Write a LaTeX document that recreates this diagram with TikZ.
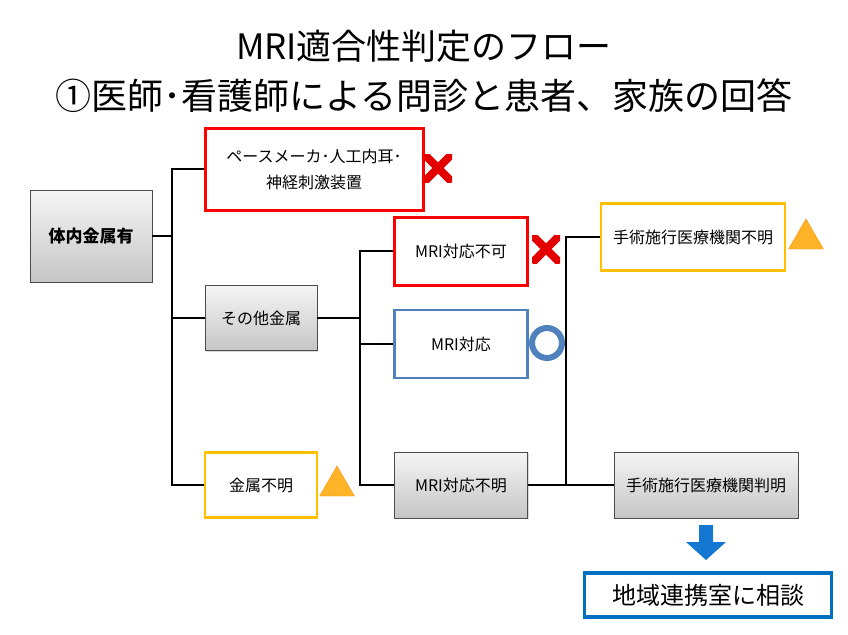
\documentclass[tikz,border=0pt]{standalone}
\usepackage{fontspec}
\setmainfont{Noto Sans CJK JP}
\usetikzlibrary{shapes.geometric,shadows}
\definecolor{stb}{RGB}{79,129,189}
\definecolor{yb}{RGB}{255,192,0}
\definecolor{tf}{RGB}{255,180,40}
\definecolor{cb}{RGB}{0,112,192}
\definecolor{ab}{RGB}{20,120,210}
\begin{document}
\begin{tikzpicture}[x=1pt,y=-1pt,
 box/.style={draw,rectangle,align=center,font=\fontsize{16}{26}\selectfont,inner sep=0pt},
 gbox/.style={box,draw=black!70,line width=0.8pt,top color=gray!8,bottom color=gray!45,drop shadow={shadow xshift=1pt,shadow yshift=-1pt,opacity=0.3}},
 rbox/.style={box,draw=red,line width=3pt,fill=white},
 ybox/.style={box,draw=yb,line width=2.5pt,fill=white},
 bbox/.style={box,draw=stb,line width=2.5pt,fill=white},
 ln/.style={line width=2.5pt,black},
 xmark/.style={minimum size=28pt,inner sep=0pt,path picture={\draw[red!90!black,line width=8pt] (path picture bounding box.north west)--(path picture bounding box.south east) (path picture bounding box.north east)--(path picture bounding box.south west);}},
 tri/.style={draw=orange!90!yellow,fill=tf,isosceles triangle,isosceles triangle apex angle=60,shape border rotate=90,minimum height=30pt,inner sep=0pt}
]
\useasboundingbox (0,0) rectangle (848,634);
\node[font=\fontsize{35}{36}\selectfont] (t1) at (424,46) {MRI適合性判定のフロー};
\node[font=\fontsize{36}{38}\selectfont] (t2) at (424,96) {①医師･看護師による問診と患者、家族の回答};

\node[gbox,minimum width=122,minimum height=92,font=\fontsize{17}{20}\selectfont\bfseries] (a) at (91,236) {体内金属有};
\node[rbox,minimum width=218,minimum height=82] (pm) at (314,169) {ペースメーカ･人工内耳･\\神経刺激装置};
\node[xmark] (x1) at (438,168) {};
\node[gbox,minimum width=112,minimum height=65] (ot) at (261,318) {その他金属};
\node[ybox,minimum width=112,minimum height=65] (un) at (261,485) {金属不明};
\node[tri] (tr1) at (337,486) {};
\node[rbox,minimum width=133,minimum height=68] (ng) at (461,251) {MRI対応不可};
\node[xmark] (x2) at (546,249) {};
\node[bbox,minimum width=133,minimum height=68] (ok) at (461,344) {MRI対応};
\node[circle,draw=stb,fill=white,line width=6pt,minimum size=30pt,inner sep=0pt] (o1) at (547,343) {};
\node[gbox,minimum width=133,minimum height=66] (mu) at (461,485) {MRI対応不明};
\node[ybox,minimum width=184,minimum height=67] (hu) at (693,237) {手術施行医療機関不明};
\node[tri] (tr2) at (806,239) {};
\node[gbox,minimum width=184,minimum height=66] (hk) at (706,485) {手術施行医療機関判明};
\node[draw=cb,line width=3.5pt,fill=white,minimum width=247,minimum height=44,inner sep=0pt,font=\fontsize{24}{26}\selectfont] (ch) at (708,595) {地域連携室に相談};
\fill[ab] (699,525) rectangle (713,542) (686,542) -- (726,542) -- (706,560) -- cycle;

\coordinate (j1) at (172,236);
\draw[ln] (a.east) -- (j1);
\draw[ln] (pm.west) -| (172,485) -- (un.west);
\draw[ln] (172,318) -- (ot.west);
\draw[ln] (ot.east) -- (360,318);
\draw[ln] (ng.west) -| (360,485) -- (mu.west);
\draw[ln] (360,344) -- (ok.west);
\draw[ln] (mu.east) -- (hk.west);
\draw[ln] (hu.west) -| (566,485);
\end{tikzpicture}
\end{document}
